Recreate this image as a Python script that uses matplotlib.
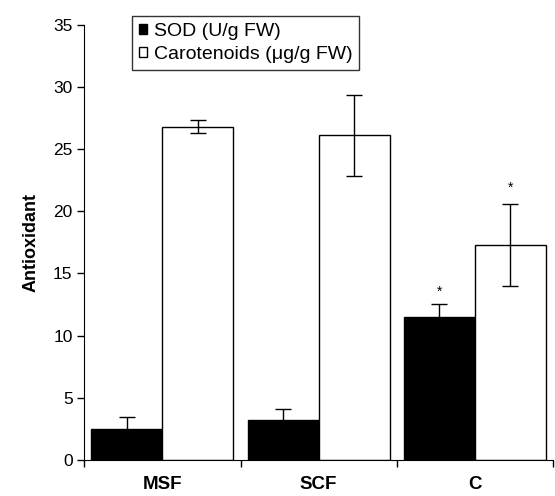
import matplotlib
matplotlib.use("Agg")
import matplotlib.pyplot as plt
import numpy as np

plt.rcParams["font.family"] = ["Liberation Sans", "DejaVu Sans"]

categories = ["MSF", "SCF", "C"]
sod = [2.5, 3.2, 11.5]
sod_err = [0.95, 0.9, 1.0]
car = [26.8, 26.1, 17.3]
car_err = [0.5, 3.25, 3.3]
sod_star = [False, False, True]
car_star = [False, False, True]

fig = plt.figure(figsize=(5.55, 4.96), dpi=100)
ax = fig.add_axes([0.152, 0.073, 0.844, 0.877])

x = np.arange(len(categories))
w = 0.455
xs = x - w / 2
xc = x + w / 2

ax.bar(xs, sod, width=w, color="black", edgecolor="black", linewidth=1.0,
       label="SOD (U/g FW)", zorder=2)
ax.bar(xc, car, width=w, color="white", edgecolor="black", linewidth=1.0,
       label="Carotenoids (μg/g FW)", zorder=2)
ax.errorbar(xs, sod, yerr=sod_err, fmt="none", ecolor="black",
            elinewidth=1.0, capsize=6, capthick=1.0, zorder=3)
ax.errorbar(xc, car, yerr=car_err, fmt="none", ecolor="black",
            elinewidth=1.0, capsize=6, capthick=1.0, zorder=3)

for i in range(len(categories)):
    if sod_star[i]:
        ax.text(xs[i], sod[i] + sod_err[i] + 1.0, "*", ha="center",
                va="center", fontsize=10)
    if car_star[i]:
        ax.text(xc[i], car[i] + car_err[i] + 1.3, "*", ha="center",
                va="center", fontsize=10)

ax.set_xlim(-0.5, 2.5)
ax.set_ylim(0, 35)
ax.set_yticks(range(0, 36, 5))
ax.tick_params(axis="y", labelsize=12.5, length=5, width=1.0, direction="out")
ax.set_xticks([-0.5, 0.5, 1.5, 2.5])
ax.set_xticklabels([])
ax.tick_params(axis="x", length=5, width=1.0, direction="out")
for i, c in enumerate(categories):
    ax.text(x[i], -1.3, c, ha="center", va="top", fontsize=13.5,
            fontweight="bold")

ax.set_ylabel("Antioxidant", fontsize=13, fontweight="bold", labelpad=10)
ax.spines["top"].set_visible(False)
ax.spines["right"].set_visible(False)

leg = ax.legend(loc="upper left", bbox_to_anchor=(0.102, 1.02), fontsize=14,
                frameon=True, fancybox=False, edgecolor="black",
                handlelength=0.42, handleheight=0.42, handletextpad=0.35,
                borderpad=0.35, labelspacing=0.3, borderaxespad=0)
leg.get_frame().set_linewidth(1.0)

fig.savefig("out.png", dpi=100)
